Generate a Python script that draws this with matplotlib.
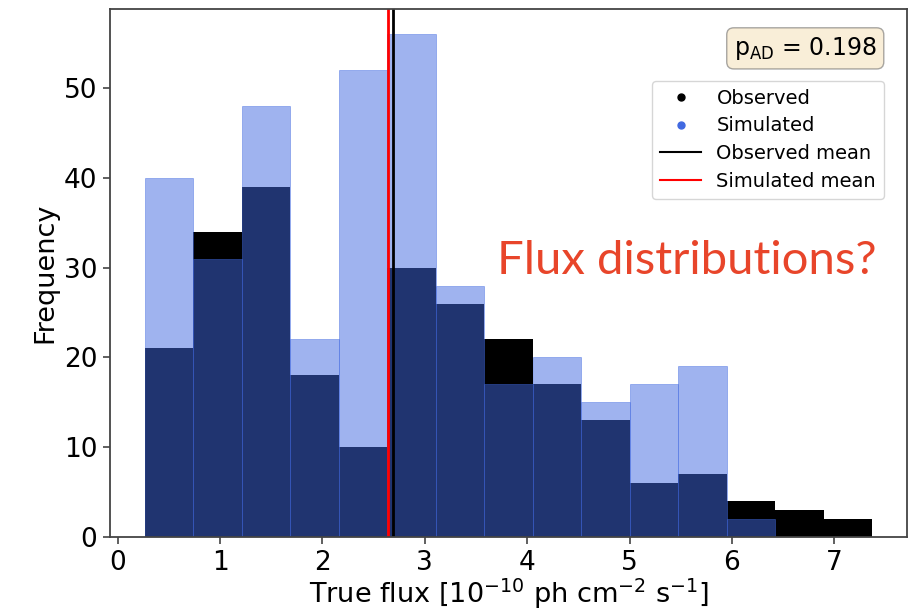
import matplotlib
matplotlib.use("Agg")
import matplotlib.pyplot as plt
from matplotlib.lines import Line2D
import numpy as np

# Data
bin_start = 0.266
bin_width = 0.4737
observed_counts = [21, 34, 39, 18, 10, 30, 26, 22, 17, 13, 6, 7, 4, 3, 2]
simulated_counts = [40, 31, 48, 22, 52, 56, 28, 17, 20, 15, 17, 19, 2, 0, 0]
observed_mean = 2.694
simulated_mean = 2.644
p_ad = 0.198
x_ticks = [0, 1, 2, 3, 4, 5, 6, 7]
y_ticks = [0, 10, 20, 30, 40, 50]

n = len(observed_counts)
edges = bin_start + bin_width * np.arange(n + 1)
centers = 0.5 * (edges[:-1] + edges[1:])

fig = plt.figure(figsize=(9.21, 6.12), dpi=100)
ax = fig.add_axes([0.1194, 0.1225, 0.8654, 0.8628])

ax.hist(centers, bins=edges, weights=observed_counts, color='black')
ax.hist(centers, bins=edges, weights=simulated_counts, color='royalblue',
        alpha=0.5, edgecolor='royalblue', linewidth=0.6)
ax.axvline(observed_mean, color='black', lw=2)
ax.axvline(simulated_mean, color='red', lw=2)

ax.set_xlim(-0.075, 7.71)
ax.set_xticks(x_ticks)
ax.set_yticks(y_ticks)
ax.tick_params(labelsize=19, length=5, width=1.2, color='#444444', pad=4)
for s in ax.spines.values():
    s.set_color('#444444')
    s.set_linewidth(1.3)
ax.set_xlabel(r'True flux [$\mathregular{10^{-10}}$ ph cm$^{\mathregular{-2}}$ s$^{\mathregular{-1}}$]',
              fontsize=19.5, labelpad=1)
ax.set_ylabel('Frequency', fontsize=19.5)

handles = [
    Line2D([], [], marker='o', ls='none', color='black', markersize=5),
    Line2D([], [], marker='o', ls='none', color='royalblue', markersize=5),
    Line2D([], [], color='black', lw=1.5),
    Line2D([], [], color='red', lw=1.5),
]
labels = ['Observed', 'Simulated', 'Observed mean', 'Simulated mean']
ax.legend(handles, labels, loc='upper right', bbox_to_anchor=(0.971, 0.864),
          borderaxespad=0, fontsize=14, frameon=True, handlelength=2.1,
          labelspacing=0.45, handletextpad=0.8)

ax.text(0.962, 0.951, r'$\mathregular{p_{AD}}$ = %.3f' % p_ad, transform=ax.transAxes,
        ha='right', va='top', fontsize=17,
        bbox=dict(boxstyle='round,pad=0.3', facecolor='wheat', alpha=0.5, edgecolor='#555555'))

ax.text(0.962, 0.498, 'Flux distributions?', transform=ax.transAxes, ha='right', va='baseline',
        fontsize=34, color='#E8452A', family=['Lato', 'DejaVu Sans'])

fig.savefig('out.png', dpi=100)
